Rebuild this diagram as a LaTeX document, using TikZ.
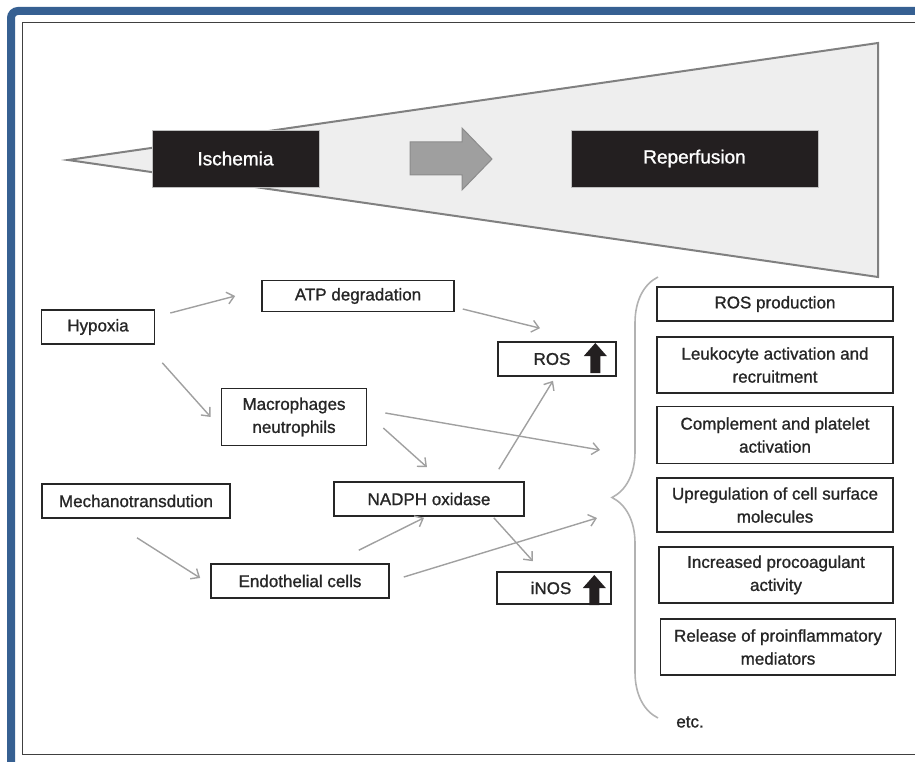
\documentclass[tikz,border=0pt]{standalone}
\usepackage{fontspec}
\setmainfont{Liberation Sans}
\newfontfamily\medfont{Liberation Sans}[FakeBold=1.1]
\usetikzlibrary{arrows.meta,shapes,positioning,calc,decorations.pathreplacing}
\definecolor{frameblue}{RGB}{54,96,146}
\definecolor{inkblack}{RGB}{35,31,32}
\definecolor{wedgefill}{RGB}{238,238,238}
\definecolor{linkgray}{RGB}{160,160,160}
\tikzstyle{box} = [draw=black!85, line width=1.6pt, fill=white, inner sep=2pt,
    align=center, minimum height=34pt, font=\medfont\fontsize{17}{23}\selectfont, text=black!85]
\tikzstyle{effect} = [box, minimum width=236pt, minimum height=56pt]
\tikzstyle{darkbox} = [fill=inkblack, draw=gray!50, line width=0.6pt, text=white,
    minimum height=57pt, font=\medfont\fontsize{19}{23}\selectfont]
\tikzstyle{wedge} = [fill=wedgefill, draw=black!50, line width=2pt, line join=miter]
\tikzstyle{link} = [-{Straight Barb[length=7pt,width=12pt]}, draw=linkgray, line width=1.4pt]
\newcommand\upblock[2]{\fill [inkblack, shift={($(#1.east)+(#2)$)}]
  (-5,14) -- (5,14) -- (5,-3) -- (11.5,-3) -- (0,-16) -- (-11.5,-3) -- (-5,-3) -- cycle;}

\begin{document}
\begin{tikzpicture}[x=1pt, y=-1pt, node distance=70pt]
  \useasboundingbox (0,0) rectangle (915,762);
  \clip (0,0) rectangle (915,762);
  % frame
  \draw [frameblue, line width=8pt, rounded corners=7pt] (11,11) rectangle (960,800);
  \draw [black!75, line width=1.8pt] (22.5,22.5) rectangle (960,754.5);
  % top part
  \draw [wedge] (68,160) -- (878,43) -- (878,277) -- cycle;
  \node [darkbox, minimum width=167pt] (isch) at (235.5,158.5) {Ischemia};
  \node [darkbox, minimum width=247pt] (repf) at (694.5,158.5) {Reperfusion};
  \draw [fill=gray!75, draw=gray!90, line width=1pt, line join=miter]
    (410,142) -- (462,142) -- (462,128) -- (492,159) -- (462,190) -- (462,175) -- (410,175) -- cycle;

  % causes
  \node [box, minimum width=113pt] (hyp) at (98,327) {Hypoxia};
  \node [box, minimum width=192pt, minimum height=31pt] (atp) at (358,296) {ATP degradation};
  \node [box, minimum width=118pt] (ros) at (557,359) {ROS\hspace*{10pt}};
  \node [box, minimum width=145pt, minimum height=57pt] (mac) at (294,417) {Macrophages\\neutrophils};
  \node [box, minimum width=190pt] (nad) at (429,499) {NADPH oxidase};
  \node [box, minimum width=188pt] (mech) at (136,501) {Mechanotransdution};
  \node [box, minimum width=178pt] (endo) at (300,581) {Endothelial cells};
  \node [box, minimum width=114pt, minimum height=32pt] (inos) at (554,588) {iNOS\hspace*{6pt}};
  \upblock{ros}{-21.5,0}
  \upblock{inos}{-17.5,3}

  % effects
  \node [effect, minimum height=34pt] (rosp) at (775,304) {ROS production};
  \node [effect, below of=rosp, node distance=61pt] (leuk) {Leukocyte activation and\\recruitment};
  \node [effect, below of=leuk, minimum height=57pt] (comp) {Complement and platelet\\activation};
  \node [effect, below of=comp, minimum height=54pt] (upr) {Upregulation of cell surface\\molecules};
  \node [effect, below of=upr, xshift=1pt, minimum width=234pt] (proc) {Increased procoagulant\\activity};
  \node [effect, below of=proc, xshift=2pt, node distance=72pt, minimum width=235pt] (rel) {Release of proinflammatory\\mediators};
  \node [font=\medfont\fontsize{17}{23}\selectfont, text=black!85] (etc) at (690,722) {etc.};
  \draw [draw=gray!60, line width=1.6pt, decorate, decoration={brace, amplitude=46pt}]
    (658,718) -- (658,277);
  \coordinate (brc1) at (600,450);
  \coordinate (brc2) at (597,518);

  % connectors
  \draw [link] ($(hyp.east)+(15,-14)$) -- ($(atp.west)+(-26,0)$);
  \draw [link] ($(hyp.south east)+(7,18)$) -- ($(mac.west)+(-10,0)$);
  \draw [link] ($(atp.east)+(8,13)$) -- ($(ros.north)+(-17,-13)$);
  \draw [link] ($(mac.east)+(16,11)$) -- ($(nad.north)+(-2,-14)$);
  \draw [link] ($(mac.east)+(18,-4)$) -- (brc1);
  \draw [link] ($(nad.north east)+(-26,-12)$) -- ($(ros.south)+(-4,4)$);
  \draw [link] ($(nad.south east)+(-31,1)$) -- ($(inos.north)+(-21,-10)$);
  \draw [link] ($(mech.south)+(1,19)$) -- ($(endo.west)+(-10,-3)$);
  \draw [link] ($(endo.north east)+(-31,-13)$) -- ($(nad.south)+(-5,1)$);
  \draw [link] ($(endo.east)+(14,-4)$) -- (brc2);
\end{tikzpicture}
\end{document}
